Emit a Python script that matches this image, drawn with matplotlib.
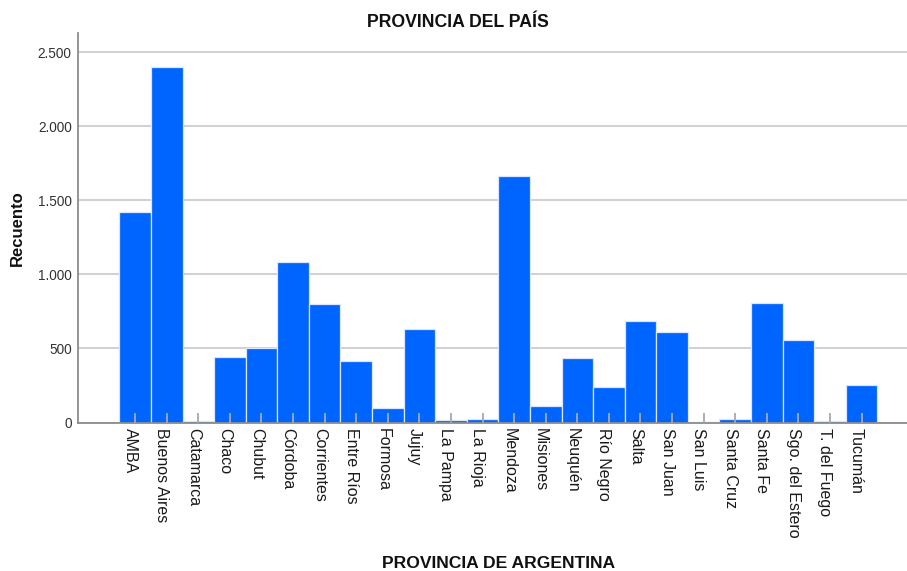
import matplotlib
matplotlib.use("Agg")
import matplotlib.pyplot as plt
from matplotlib.ticker import FuncFormatter
from matplotlib.transforms import ScaledTranslation

categories = ["AMBA", "Buenos Aires", "Catamarca", "Chaco", "Chubut", "Córdoba",
              "Corrientes", "Entre Ríos", "Formosa", "Jujuy", "La Pampa", "La Rioja",
              "Mendoza", "Misiones", "Neuquén", "Río Negro", "Salta", "San Juan",
              "San Luis", "Santa Cruz", "Santa Fe", "Sgo. del Estero", "T. del Fuego",
              "Tucumán"]
counts = [1418, 2402, 8, 445, 502, 1087, 800, 414, 97, 628, 18, 24, 1667, 112,
          435, 242, 682, 612, 4, 27, 804, 554, 10, 252]
yticks = [0, 500, 1000, 1500, 2000, 2500]

plt.rcParams['font.family'] = ['Liberation Sans', 'DejaVu Sans']

W, H = 907, 571
fig = plt.figure(figsize=(W / 100, H / 100), dpi=100)
ax = fig.add_axes([78 / W, 1 - 422.5 / H, (907 - 78) / W, (422.5 - 33) / H])

x = list(range(len(categories)))
ax.bar(x, counts, width=1.0, color='#0064FF', edgecolor='#DCE6FA', linewidth=0.9, zorder=2)

ax.set_xlim(-1.81, 24.44)
ax.set_ylim(0, 2630)
ax.set_yticks(yticks)
ax.yaxis.set_major_formatter(FuncFormatter(lambda v, p: f"{int(v):,}".replace(",", ".")))
ax.set_axisbelow(True)
ax.yaxis.grid(True, color='#D2D2D2', linewidth=1.5)
ax.xaxis.set_zorder(3)

ax.set_xticks(x)
ax.set_xticklabels([])
ax.tick_params(axis='x', direction='in', length=7.5, width=1.3, color='#A8A8A8')
ax.tick_params(axis='y', length=0, labelsize=9.8, labelcolor='#333333', pad=4.5)

lab_tr = ax.get_xaxis_transform() + ScaledTranslation(-5 / 100, -5.5 / 100, fig.dpi_scale_trans)
for xi, cat in zip(x, categories):
    ax.text(xi, 0, cat, transform=lab_tr, rotation=-90, fontsize=11.5,
            color='#1a1a1a', ha='center', va='top', clip_on=False)

for s in ['top', 'right']:
    ax.spines[s].set_visible(False)
for s in ['left', 'bottom']:
    ax.spines[s].set_color('#8c8c8c')
    ax.spines[s].set_linewidth(1.3)

fig.text(458 / W, 1 - 22.7 / H, "PROVINCIA DEL PAÍS", ha='center', va='center',
         fontsize=12.7, fontweight='bold', color='#111111')
fig.text(499 / W, 1 - 564 / H, "PROVINCIA DE ARGENTINA", ha='center', va='center',
         fontsize=12.6, fontweight='bold', color='#111111')
fig.text(17 / W, 1 - 228 / H, "Recuento", ha='center', va='center', rotation=90,
         fontsize=12, fontweight='bold', color='#111111')

fig.savefig("out.png", dpi=100)
